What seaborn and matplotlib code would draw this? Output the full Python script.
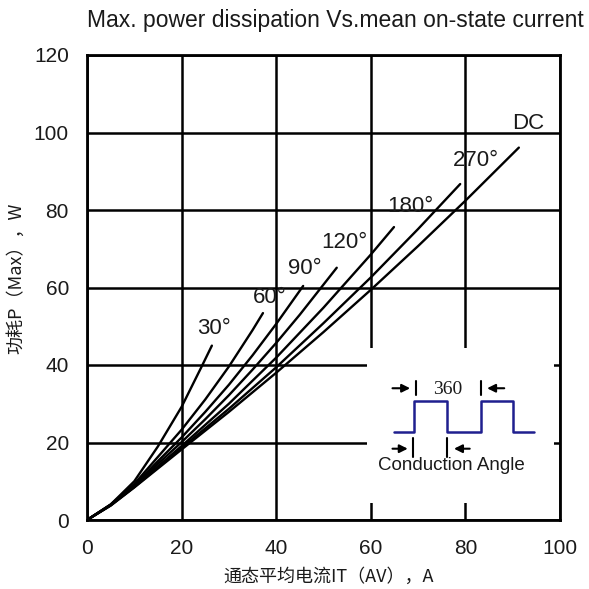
import numpy as np
import pandas as pd
import matplotlib
matplotlib.use("Agg")
import matplotlib.pyplot as plt
import seaborn as sns

# ---- data ----
i_30 = [0, 5, 10, 15, 20, 24.2, 26.4]
p_30 = [0, 4.0, 10.0, 19.0, 29.2, 39.5, 45.0]

i_60 = [0, 5, 10, 15, 20, 25, 30, 35, 37.2]
p_60 = [0, 4.0, 9.3, 16.3, 23.3, 31.1, 39.6, 49.0, 53.4]

i_90 = [0, 5, 10, 15, 20, 25, 30, 35, 40, 45.7]
p_90 = [0, 3.9, 9.0, 15.2, 21.3, 27.9, 34.9, 42.5, 50.6, 60.4]

i_120 = [0, 5, 10, 15, 20, 25, 30, 35, 40, 45, 52.8]
p_120 = [0, 3.9, 8.8, 14.5, 20.1, 26.0, 32.2, 38.8, 45.7, 53.0, 65.1]

i_180 = [0, 5, 10, 20, 30, 40, 50, 60, 64.9]
p_180 = [0, 3.8, 8.6, 19.1, 30.0, 41.9, 54.8, 68.5, 75.6]

i_270 = [0, 5, 10, 20, 30, 40, 50, 60, 70, 78.9]
p_270 = [0, 3.8, 8.5, 18.6, 28.7, 39.4, 50.8, 62.6, 75.1, 86.7]

i_dc = [0, 5, 10, 20, 30, 40, 50, 60, 70, 80, 91.3]
p_dc = [0, 3.7, 8.4, 18.2, 27.9, 38.0, 48.5, 59.4, 70.7, 82.4, 96.1]

curve_names = ["30°", "60°", "90°", "120°", "180°", "270°", "DC"]
curve_i = [i_30, i_60, i_90, i_120, i_180, i_270, i_dc]
curve_p = [p_30, p_60, p_90, p_120, p_180, p_270, p_dc]
# label anchor positions (data coords)
label_x = [26.8, 38.7, 46.1, 54.5, 68.3, 82.2, 93.2]
label_y = [49.5, 57.3, 64.8, 71.5, 81.0, 92.9, 102.2]

x_ticks = [0, 20, 40, 60, 80, 100]
y_ticks = [0, 20, 40, 60, 80, 100, 120]

title = "Max. power dissipation Vs.mean on-state current"
xlabel = "通态平均电流IT（AV），A"
ylabel = "功耗P（Max），W"

# inset waveform (data coords)
wave_x = [64.8, 69.2, 69.2, 76.2, 76.2, 83.3, 83.3, 90.1, 90.1, 94.6]
wave_y = [22.8, 22.8, 30.8, 30.8, 22.8, 22.8, 30.8, 30.8, 22.8, 22.8]

# ---- build long table ----
rows = []
for name, xs, ys in zip(curve_names, curve_i, curve_p):
    for xv, yv in zip(xs, ys):
        rows.append({"I": xv, "P": yv, "curve": name})
df = pd.DataFrame(rows)

sns.set_style("white")
plt.rcParams["font.family"] = ["Liberation Sans", "DejaVu Sans"]

fig = plt.figure(figsize=(5.89, 5.89), dpi=100)
ax = fig.add_axes([87/589, 1-520/589, (560-87)/589, (520-55)/589])

sns.lineplot(data=df, x="I", y="P", units="curve", estimator=None,
             color="black", lw=1.7, ax=ax, sort=False, legend=False, zorder=3)

ax.set_xlim(0, 100)
ax.set_ylim(0, 120)
ax.set_xticks(x_ticks)
ax.set_yticks(y_ticks)
ax.set_xticklabels([str(v) for v in x_ticks])
ax.set_yticklabels([str(v) for v in y_ticks])
ax.tick_params(axis="both", length=0, labelsize=15, colors="#1a1a1a")
ax.tick_params(axis="x", pad=14)
ax.tick_params(axis="y", pad=13)
ax.grid(True, color="black", lw=1.8, zorder=1)
ax.set_axisbelow(True)
for s in ax.spines.values():
    s.set_color("black")
    s.set_linewidth(2)
ax.set_xlabel("")
ax.set_ylabel("")

for name, lx, ly in zip(curve_names, label_x, label_y):
    ax.text(lx, ly, name, fontsize=16, ha="center", va="center",
            color="#1a1a1a", zorder=5)

# inset: white box covering grid
ax.add_patch(plt.Rectangle((59.3, 4.4), 39.4, 40.0, facecolor="white",
                           edgecolor="none", zorder=2))
ax.plot(wave_x, wave_y, color="#1f1f8f", lw=1.8, zorder=4)

# markers for 360
ax.plot([69.5, 69.5], [32.2, 35.8], color="black", lw=1.5, zorder=4)
ax.plot([83.3, 83.3], [32.2, 35.8], color="black", lw=1.5, zorder=4)
ax.annotate("", xy=(68.9, 34.0), xytext=(64.0, 34.0),
            arrowprops=dict(arrowstyle="-|>", color="black", lw=1.5, mutation_scale=12), zorder=4)
ax.annotate("", xy=(84.0, 34.0), xytext=(88.8, 34.0),
            arrowprops=dict(arrowstyle="-|>", color="black", lw=1.5, mutation_scale=12), zorder=4)
ax.text(76.3, 33.8, "360", fontsize=14, ha="center", va="center",
        family=["Liberation Serif", "DejaVu Serif"], color="#1a1a1a", zorder=5)

# markers for conduction angle
ax.plot([69.0, 69.0], [16.2, 21.2], color="black", lw=1.5, zorder=4)
ax.plot([76.2, 76.2], [16.2, 21.2], color="black", lw=1.5, zorder=4)
ax.annotate("", xy=(68.4, 18.4), xytext=(64.0, 18.4),
            arrowprops=dict(arrowstyle="-|>", color="black", lw=1.5, mutation_scale=12), zorder=4)
ax.annotate("", xy=(77.0, 18.4), xytext=(81.5, 18.4),
            arrowprops=dict(arrowstyle="-|>", color="black", lw=1.5, mutation_scale=12), zorder=4)
ax.text(77.1, 14.0, "Conduction Angle", fontsize=13.5, ha="center", va="center",
        color="#1a1a1a", zorder=5)

fig.text(335/589, 1-20/589, title, fontsize=16.5, ha="center", va="center",
         color="#1a1a1a")
fig.text(329/589, 1-577/589, xlabel, fontsize=13, ha="center", va="center",
         family=["Noto Sans CJK SC", "DejaVu Sans"], color="#1a1a1a")
fig.text(16/589, 1-278/589, ylabel, fontsize=13, ha="center", va="center",
         rotation=90, family=["Noto Sans CJK SC", "DejaVu Sans"], color="#1a1a1a")

fig.savefig("out.png", dpi=100, facecolor="white")
